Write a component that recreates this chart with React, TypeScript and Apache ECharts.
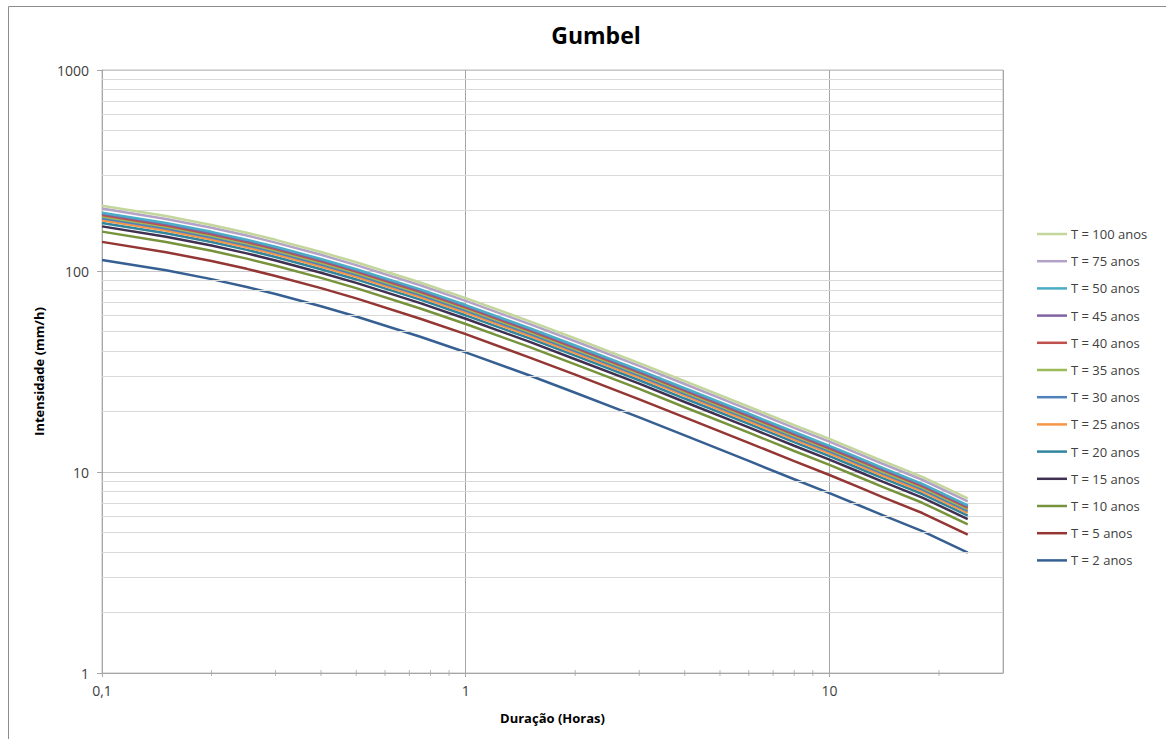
import React, { useEffect, useRef } from "react";
import * as echarts from "echarts";

// Duration (hours)
const durations = [0.1, 0.15, 0.2, 0.25, 0.3, 0.4, 0.5, 0.75, 1, 1.5, 2, 3, 4, 6, 8, 10, 12, 14, 18, 24];

// Intensity (mm/h) per return period
const t2 = [113.5, 100.8, 91.1, 83.3, 76.8, 66.8, 59.4, 47.1, 39.4, 30.2, 24.8, 18.7, 15.2, 11.35, 9.2, 7.85, 6.85, 6.1, 5.08, 3.97];
const t5 = [139.6, 124.0, 112.1, 102.5, 94.5, 82.2, 73.1, 57.9, 48.5, 37.1, 30.5, 23.0, 18.7, 13.96, 11.32, 9.66, 8.43, 7.5, 6.25, 4.88];
const t10 = [157.0, 139.4, 126.0, 115.2, 106.2, 92.4, 82.2, 65.1, 54.5, 41.8, 34.3, 25.9, 21.0, 15.7, 12.72, 10.86, 9.47, 8.44, 7.03, 5.49];
const t15 = [166.7, 148.1, 133.8, 122.4, 112.8, 98.1, 87.3, 69.2, 57.9, 44.4, 36.4, 27.5, 22.3, 16.67, 13.51, 11.53, 10.06, 8.96, 7.46, 5.83];
const t20 = [173.5, 154.1, 139.3, 127.4, 117.4, 102.1, 90.8, 72.0, 60.2, 46.2, 37.9, 28.6, 23.2, 17.35, 14.07, 12.0, 10.47, 9.33, 7.77, 6.07];
const t25 = [178.9, 158.9, 143.6, 131.3, 121.0, 105.3, 93.6, 74.2, 62.1, 47.6, 39.1, 29.5, 24.0, 17.89, 14.5, 12.37, 10.8, 9.61, 8.01, 6.26];
const t30 = [183.1, 162.6, 146.9, 134.4, 123.9, 107.7, 95.8, 76.0, 63.6, 48.7, 40.0, 30.2, 24.5, 18.31, 14.84, 12.66, 11.05, 9.84, 8.19, 6.4];
const t35 = [186.7, 165.8, 149.9, 137.0, 126.3, 109.9, 97.7, 77.5, 64.8, 49.7, 40.8, 30.8, 25.0, 18.67, 15.13, 12.91, 11.27, 10.03, 8.36, 6.53];
const t40 = [189.9, 168.6, 152.4, 139.4, 128.5, 111.8, 99.4, 78.8, 65.9, 50.5, 41.5, 31.3, 25.4, 18.99, 15.39, 13.13, 11.46, 10.21, 8.5, 6.64];
const t45 = [192.6, 171.1, 154.6, 141.4, 130.3, 113.4, 100.8, 79.9, 66.9, 51.2, 42.1, 31.7, 25.8, 19.26, 15.61, 13.32, 11.62, 10.35, 8.62, 6.74];
const t50 = [195.1, 173.3, 156.6, 143.2, 132.0, 114.8, 102.1, 81.0, 67.7, 51.9, 42.6, 32.1, 26.1, 19.51, 15.81, 13.49, 11.78, 10.49, 8.73, 6.82];
const t75 = [204.5, 181.6, 164.2, 150.1, 138.4, 120.4, 107.0, 84.9, 71.0, 54.4, 44.7, 33.7, 27.4, 20.45, 16.58, 14.15, 12.34, 10.99, 9.15, 7.15];
const t100 = [211.2, 187.6, 169.5, 155.0, 142.9, 124.3, 110.5, 87.7, 73.3, 56.2, 46.2, 34.8, 28.3, 21.12, 17.12, 14.61, 12.75, 11.35, 9.45, 7.39];

const seriesNames = [
  "T = 100 anos", "T = 75 anos", "T = 50 anos", "T = 45 anos", "T = 40 anos", "T = 35 anos",
  "T = 30 anos", "T = 25 anos", "T = 20 anos", "T = 15 anos", "T = 10 anos", "T = 5 anos", "T = 2 anos",
];
const seriesValues = [t100, t75, t50, t45, t40, t35, t30, t25, t20, t15, t10, t5, t2];
const seriesColors = [
  "#C3D69B", "#B3A2C7", "#4BACC6", "#8064A2", "#C0504D", "#9BBB59",
  "#4F81BD", "#F79646", "#31859C", "#403152", "#77933C", "#943634", "#376092",
];

const minorGridY = [2, 3, 4, 5, 6, 7, 8, 9, 20, 30, 40, 50, 60, 70, 80, 90, 200, 300, 400, 500, 600, 700, 800, 900];
const minorTicksX = [0.2, 0.3, 0.4, 0.5, 0.6, 0.7, 0.8, 0.9, 2, 3, 4, 5, 6, 7, 8, 9, 20];

const FONT = "'Open Sans', 'Noto Sans', sans-serif";

export default function App() {
  const ref = useRef<HTMLDivElement>(null);
  useEffect(() => {
    if (!ref.current) return;
    const chart = echarts.init(ref.current, undefined, { renderer: "svg" });
    const lineSeries = seriesNames.map((name, k) => ({
      name,
      type: "line",
      symbol: "none",
      z: 3 + (seriesNames.length - k),
      lineStyle: { width: 2.5, color: seriesColors[k] },
      itemStyle: { color: seriesColors[k] },
      data: durations.map((d, i) => [d, seriesValues[k][i]]),
    }));
    chart.setOption({
      animation: false,
      backgroundColor: "#ffffff",
      textStyle: { fontFamily: FONT },
      title: {
        text: "Gumbel",
        left: 591,
        top: 18,
        textAlign: "center",
        textStyle: { fontFamily: FONT, fontSize: 23, fontWeight: "bold", color: "#000000" },
      },
      graphic: [
        {
          type: "rect",
          shape: { x: 8.5, y: 6.5, width: 1170, height: 750 },
          style: { fill: "none", stroke: "#8C8C8C", lineWidth: 1 },
          silent: true,
        },
      ],
      grid: {
        left: 102,
        top: 70,
        right: 163,
        bottom: 66,
        show: true,
        borderColor: "#BFBFBF",
        borderWidth: 1,
        backgroundColor: "transparent",
      },
      legend: {
        orient: "vertical",
        left: 1037,
        top: 227,
        padding: 0,
        icon: "rect",
        itemWidth: 30,
        itemHeight: 2.5,
        itemGap: 13.2,
        data: seriesNames,
        textStyle: { fontFamily: FONT, fontSize: 13, lineHeight: 14, color: "#404040", padding: [0, 0, 0, -1] },
      },
      xAxis: {
        type: "log",
        logBase: 10,
        min: 0.1,
        max: 30,
        name: "Duração (Horas)",
        nameLocation: "middle",
        nameGap: 38,
        nameTextStyle: { fontFamily: FONT, fontSize: 13, fontWeight: "bold", color: "#000000" },
        axisLine: { show: true, lineStyle: { color: "#A6A6A6" } },
        axisTick: { show: true, length: 4, lineStyle: { color: "#A6A6A6" } },
        axisLabel: {
          fontFamily: FONT,
          fontSize: 14,
          color: "#404040",
          margin: 10,
          showMaxLabel: false,
          formatter: (v: number) => (v < 0.5 ? "0,1" : String(Math.round(v))),
        },
        splitLine: { show: true, lineStyle: { color: "#A6A6A6", width: 1 } },
      },
      yAxis: {
        type: "log",
        logBase: 10,
        min: 1,
        max: 1000,
        name: "Intensidade (mm/h)",
        nameLocation: "middle",
        nameGap: 57,
        nameTextStyle: { fontFamily: FONT, fontSize: 13, fontWeight: "bold", color: "#000000" },
        axisLine: { show: true, lineStyle: { color: "#A6A6A6" } },
        axisTick: { show: true, length: 5, lineStyle: { color: "#A6A6A6" } },
        axisLabel: {
          fontFamily: FONT,
          fontSize: 14,
          color: "#404040",
          margin: 13,
          formatter: (v: number) => String(Math.round(v)),
        },
        splitLine: { show: true, lineStyle: { color: "#C8C8C8", width: 1 } },
      },
      series: [
        {
          name: "minor-grid",
          type: "line",
          data: [],
          z: 1,
          silent: true,
          markLine: {
            silent: true,
            symbol: ["none", "none"],
            label: { show: false },
            lineStyle: { color: "#D9D9D9", type: "solid", width: 1 },
            data: minorGridY.map((v) => ({ yAxis: v })),
          },
        },
        {
          name: "minor-ticks",
          type: "scatter",
          silent: true,
          clip: false,
          z: 2,
          symbol: "rect",
          symbolSize: [1, 6],
          itemStyle: { color: "#A6A6A6" },
          data: minorTicksX.map((d) => [d, 1]),
        },
        ...lineSeries,
      ],
    });
    return () => chart.dispose();
  }, []);
  return (
    <div
      ref={ref}
      style={{ position: "fixed", left: 0, top: 0, width: 1166, height: 739, background: "#fff" }}
    />
  );
}
